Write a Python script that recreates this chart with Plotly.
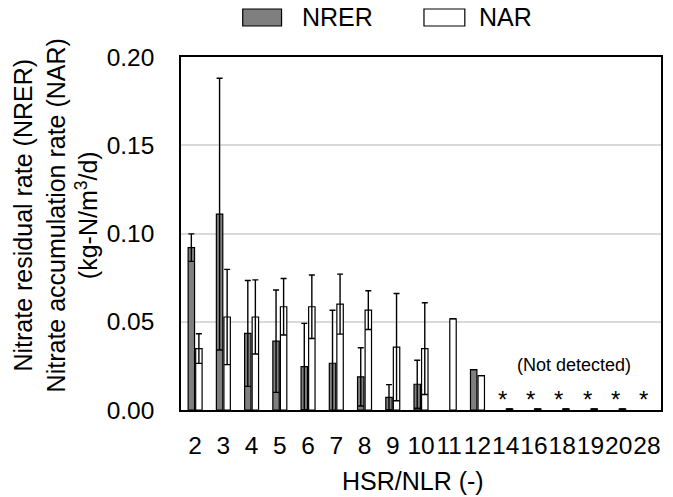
import plotly.graph_objects as go

categories = ["2", "3", "4", "5", "6", "7", "8", "9", "10", "11", "12",
              "14", "16", "18", "19", "20", "28"]
nrer = [0.092, 0.111, 0.0434, 0.039, 0.0246, 0.0265, 0.0188, 0.0072, 0.0146, None,
        0.0229, None, None, None, None, None, None]
nrer_err = [0.0078, 0.077, 0.030, 0.029, 0.0245, 0.030, 0.0165, 0.0072, 0.0136, None,
            None, None, None, None, None, None, None]
nar = [0.0348, 0.0527, 0.0527, 0.0585, 0.0585, 0.060, 0.0566, 0.0356, 0.0348, 0.0517,
       0.0195, 0.0006, 0.0006, 0.0006, 0.0006, 0.0006, None]
nar_err = [0.0084, 0.027, 0.021, 0.016, 0.018, 0.017, 0.011, 0.0304, 0.026, None,
           None, None, None, None, None, None, None]
not_detected = ["14", "16", "18", "19", "20", "28"]

FONT = "Liberation Sans, Arial, sans-serif"
GRAY = "#7f7f7f"
TXT = 25

fig = go.Figure()
fig.add_trace(go.Bar(
    x=categories, y=nrer, name="NRER",
    marker=dict(color=GRAY, line=dict(color="black", width=1.2)),
    error_y=dict(type="data", array=nrer_err, visible=True, color="black",
                 thickness=1.4, width=3),
))
fig.add_trace(go.Bar(
    x=categories, y=nar, name="NAR",
    marker=dict(color="white", line=dict(color="black", width=1.2)),
    error_y=dict(type="data", array=nar_err, visible=True, color="black",
                 thickness=1.4, width=3),
))

annotations = []
for c in not_detected:
    annotations.append(dict(x=categories.index(c) - 0.12, y=0.0057, xref="x", yref="y",
                            text="*", showarrow=False, xanchor="center", yanchor="middle",
                            font=dict(size=24, color="black", family=FONT)))
annotations.append(dict(x=13.43, y=0.0256, xref="x", yref="y", text="(Not detected)",
                        showarrow=False, xanchor="center", yanchor="middle",
                        font=dict(size=18, color="black", family=FONT)))
# axis titles
annotations.append(dict(x=0.4834, y=-0.201, xref="paper", yref="paper",
                        text="HSR/NLR (-)", showarrow=False,
                        xanchor="center", yanchor="middle",
                        font=dict(size=TXT, color="black", family=FONT)))
annotations.append(dict(x=-0.262, y=0.552, xref="paper", yref="paper", textangle=-90,
                        text="Nitrate residual rate (NRER)<br>Nitrate accumulation rate (NAR)<br>(kg-N/m<sup>3</sup>/d)",
                        showarrow=False, xanchor="center", yanchor="middle",
                        font=dict(size=TXT, color="black", family=FONT)))
# legend labels
annotations.append(dict(x=0.2469, y=1.1119, xref="paper", yref="paper", text="NRER",
                        xanchor="left", yanchor="middle", showarrow=False,
                        font=dict(size=TXT, color="black", family=FONT)))
annotations.append(dict(x=0.6162, y=1.1119, xref="paper", yref="paper", text="NAR",
                        xanchor="left", yanchor="middle", showarrow=False,
                        font=dict(size=TXT, color="black", family=FONT)))

shapes = [
    dict(type="rect", xref="paper", yref="paper", x0=0.1286, x1=0.2095, y0=1.0878, y1=1.136,
         fillcolor=GRAY, line=dict(color="black", width=1.2)),
    dict(type="rect", xref="paper", yref="paper", x0=0.5062, x1=0.5913, y0=1.0878, y1=1.136,
         fillcolor="white", line=dict(color="black", width=1.2)),
]

fig.update_layout(
    width=673, height=497,
    margin=dict(l=181, r=10, t=57, b=87),
    paper_bgcolor="white", plot_bgcolor="white",
    barmode="group", bargap=0.465, bargroupgap=0.15,
    showlegend=False,
    font=dict(family=FONT, size=24, color="black"),
    annotations=annotations, shapes=shapes,
)
fig.update_xaxes(type="category", range=[-0.5, len(categories) - 0.5],
                 tickmode="linear", tick0=0, dtick=1,
                 tickangle=0, showline=True, linecolor="black",
                 linewidth=1.5, mirror=True, ticks="", showgrid=False,
                 tickfont=dict(size=24.5, family=FONT, color="black"),
                 ticklabelstandoff=13)
fig.update_yaxes(range=[0, 0.2], dtick=0.05, tickformat=".2f", showline=True,
                 linecolor="black", linewidth=1.5, mirror=True, ticks="",
                 showgrid=True, gridcolor="#d9d9d9", gridwidth=1.5, zeroline=False,
                 tickfont=dict(size=24.5, family=FONT, color="black"),
                 ticklabelstandoff=20)

fig.write_html("out.html", config={"displayModeBar": False},
               post_script="document.body.style.margin='0';")
